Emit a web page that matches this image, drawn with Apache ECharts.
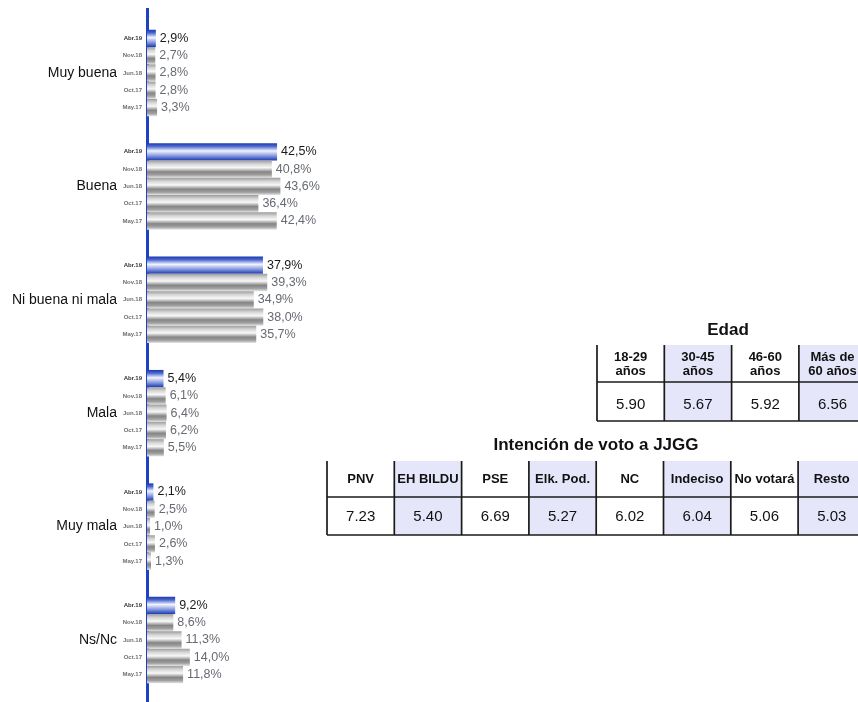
<!DOCTYPE html>
<html>
<head>
<meta charset="utf-8">
<script src="https://cdn.jsdelivr.net/npm/echarts@6/dist/echarts.min.js"></script>
<style>
  html, body { margin: 0; padding: 0; background: #fff; }
  #chart { width: 858px; height: 702px; }
</style>
</head>
<body>
<div id="chart"></div>
<script>
// Valoración por oleada (%)
const groups = ['Muy buena', 'Buena', 'Ni buena ni mala', 'Mala', 'Muy mala', 'Ns/Nc'];
const waves = ['Abr.19', 'Nov.18', 'Jun.18', 'Oct.17', 'May.17'];
const abr19 = [2.9, 42.5, 37.9, 5.4, 2.1, 9.2];
const nov18 = [2.7, 40.8, 39.3, 6.1, 2.5, 8.6];
const jun18 = [2.8, 43.6, 34.9, 6.4, 1.0, 11.3];
const oct17 = [2.8, 36.4, 38.0, 6.2, 2.6, 14.0];
const may17 = [3.3, 42.4, 35.7, 5.5, 1.3, 11.8];
const waveValues = [abr19, nov18, jun18, oct17, may17];

// Nota media por edad
const ageTitle = 'Edad';
const ageHeaders = ['18-29\naños', '30-45\naños', '46-60\naños', 'Más de\n60 años'];
const ageValues = ['5.90', '5.67', '5.92', '6.56'];

// Nota media por intención de voto
const voteTitle = 'Intención de voto a JJGG';
const voteHeaders = ['PNV', 'EH BILDU', 'PSE', 'Elk. Pod.', 'NC', 'Indeciso', 'No votará', 'Resto'];
const voteValues = ['7.23', '5.40', '6.69', '5.27', '6.02', '6.04', '5.06', '5.03'];

const FONT = '"Liberation Sans", Arial, sans-serif';
const fmt = v => v.toFixed(1).replace('.', ',') + '%';

const blueFill = new echarts.graphic.LinearGradient(0, 0, 0, 1, [
  { offset: 0, color: '#1b39b3' },
  { offset: 0.18, color: '#4a66cc' },
  { offset: 0.45, color: '#f2f4ff' },
  { offset: 0.72, color: '#8a9de0' },
  { offset: 1, color: '#1b39b3' }
]);
const greyFill = new echarts.graphic.LinearGradient(0, 0, 0, 1, [
  { offset: 0, color: '#9c9c9c' },
  { offset: 0.2, color: '#d4d4d4' },
  { offset: 0.42, color: '#f8f8f8' },
  { offset: 0.66, color: '#858585' },
  { offset: 0.84, color: '#a0a0a0' },
  { offset: 1, color: '#e6e6e6' }
]);

const BAR_W = 17.3;
const AXIS_X = 147;

const series = [];
waveValues.forEach((vals, i) => {
  // visible bars with value labels
  series.push({
    name: waves[i],
    type: 'bar',
    yAxisIndex: 0,
    data: vals,
    barWidth: BAR_W,
    barGap: '0%',
    itemStyle: { color: i === 0 ? blueFill : greyFill },
    label: {
      show: true,
      position: 'right',
      distance: 3,
      formatter: p => fmt(p.value),
      fontFamily: FONT,
      fontSize: 12.5,
      color: i === 0 ? '#1a1a1a' : '#666a72',
      backgroundColor: '#fff',
      padding: [0, 1]
    },
    z: 3
  });
  // transparent twin bars carrying the wave name at the axis side
  series.push({
    name: waves[i] + ' ',
    type: 'bar',
    yAxisIndex: 1,
    data: vals,
    barWidth: BAR_W,
    barGap: '0%',
    silent: true,
    itemStyle: { color: 'rgba(0,0,0,0)' },
    label: {
      show: true,
      position: 'left',
      distance: 5,
      formatter: waves[i],
      fontFamily: FONT,
      fontSize: 6,
      fontWeight: 'bold',
      color: i === 0 ? '#333' : '#707070'
    },
    z: 2
  });
});

// Tables drawn as graphic elements
const graphics = [];
const COL_W = 67.3;
const LAV = '#e6e6fa';
const LINE = '#1a1a1a';

// full-height axis rule behind the category axis line
graphics.push({
  type: 'line', shape: { x1: AXIS_X + 0.5, y1: 8, x2: AXIS_X + 0.5, y2: 702 },
  style: { stroke: '#1d42c4', lineWidth: 3 }, z: 0
});

function addTable(opts) {
  const { x0, top, mid, bottom, headers, values, shaded, title, titleY, headerY, valueY, lineH } = opts;
  const n = headers.length;
  const right = x0 + COL_W * n;
  shaded.forEach(ci => {
    graphics.push({ type: 'rect', shape: { x: x0 + ci * COL_W, y: top, width: COL_W, height: bottom - top }, style: { fill: LAV }, z: 1 });
  });
  for (let c = 0; c < n; c++) {
    const x = x0 + c * COL_W;
    graphics.push({ type: 'line', shape: { x1: x, y1: top, x2: x, y2: bottom }, style: { stroke: LINE, lineWidth: 1.7 }, z: 3 });
    const cx = x + COL_W / 2;
    graphics.push({
      type: 'text', x: cx, y: headerY, z: 4,
      style: { text: headers[c], fill: '#111', font: 'bold 13px ' + FONT, align: 'center', verticalAlign: 'middle', lineHeight: lineH }
    });
    graphics.push({
      type: 'text', x: cx, y: valueY, z: 4,
      style: { text: values[c], fill: '#111', font: '15px ' + FONT, align: 'center', verticalAlign: 'middle' }
    });
  }
  graphics.push({ type: 'line', shape: { x1: x0, y1: mid, x2: right, y2: mid }, style: { stroke: LINE, lineWidth: 1.4 }, z: 3 });
  graphics.push({ type: 'line', shape: { x1: x0, y1: bottom, x2: right, y2: bottom }, style: { stroke: LINE, lineWidth: 1.4 }, z: 3 });
  graphics.push({
    type: 'text', x: opts.titleX, y: titleY, z: 4,
    style: { text: title, fill: '#111', font: 'bold 17px ' + FONT, align: 'center', verticalAlign: 'middle' }
  });
}

addTable({
  x0: 597, top: 345, mid: 382, bottom: 421,
  headers: ageHeaders, values: ageValues, shaded: [1, 3],
  title: ageTitle, titleX: 728, titleY: 330, headerY: 364, valueY: 405, lineH: 14
});
addTable({
  x0: 327, top: 461, mid: 497, bottom: 535,
  headers: voteHeaders, values: voteValues, shaded: [1, 3, 5, 7],
  title: voteTitle, titleX: 596, titleY: 445, headerY: 479, valueY: 517, lineH: 14
});

const chart = echarts.init(document.getElementById('chart'), null, { renderer: 'canvas' });
chart.setOption({
  animation: false,
  backgroundColor: '#fff',
  grid: { left: AXIS_X, top: 16.3, bottom: 702 - 696.7, width: 183.6, containLabel: false },
  xAxis: {
    type: 'value', min: 0, max: 60,
    axisLine: { show: false }, axisTick: { show: false },
    axisLabel: { show: false }, splitLine: { show: false }
  },
  yAxis: [
    {
      type: 'category', data: groups, inverse: true,
      axisLine: { show: true, lineStyle: { color: '#1d42c4', width: 3 } },
      axisTick: { show: false },
      axisLabel: { margin: 30, fontFamily: FONT, fontSize: 14, color: '#111' }
    },
    {
      type: 'category', data: groups, inverse: true, show: false
    }
  ],
  series: series,
  graphic: graphics
});
</script>
</body>
</html>
